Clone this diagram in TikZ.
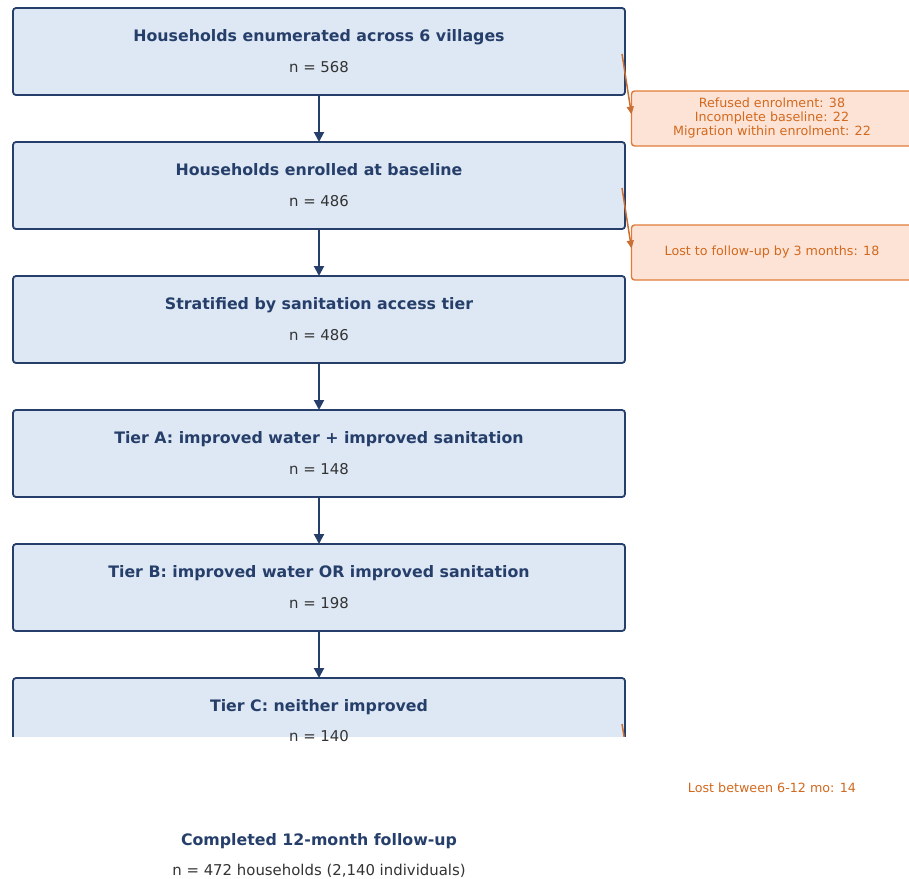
\documentclass[tikz,border=0pt]{standalone}
\usepackage{fontspec}
\setmainfont{DejaVu Sans}
\usetikzlibrary{arrows.meta}
\definecolor{navy}{HTML}{263F6A}
\definecolor{boxfill}{HTML}{DEE8F5}
\definecolor{ntextcol}{HTML}{333333}
\definecolor{orangeline}{HTML}{E07B39}
\definecolor{orangefill}{HTML}{FDE3D6}
\definecolor{orangetext}{HTML}{D2691E}
\begin{document}
\begin{tikzpicture}[x=1pt,y=-1pt,
  mainbox/.style={draw=navy, fill=boxfill, line width=1.8pt, rounded corners=3pt,
    minimum width=612pt, minimum height=87pt, inner sep=0pt, outer sep=0pt},
  sidebox/.style={draw=orangeline, fill=orangefill, line width=1.4pt, rounded corners=3pt,
    minimum width=281pt, minimum height=55pt, inner sep=0pt, outer sep=0pt},
  titletext/.style={font=\fontsize{15.8}{18}\selectfont\bfseries, text=navy, inner sep=0pt, anchor=base},
  ntext/.style={font=\fontsize{14.9}{17}\selectfont, text=ntextcol, inner sep=0pt, anchor=base},
  sidetext/.style={font=\fontsize{12.7}{14}\selectfont, text=orangetext, inner sep=0pt, align=center},
  navyarrow/.style={draw=navy, line width=2pt, -{Triangle[length=10pt,width=10pt]}},
  orangearrow/.style={draw=orangeline!90!black, line width=1.5pt, -{Triangle[length=8pt,width=7pt]}}
]
\useasboundingbox (0,0) rectangle (909,878);
\clip (0,0) rectangle (909,878);

% main boxes
\node[mainbox] (b1) at (319,51.5) {};
\node[mainbox] (b2) at (319,185.5) {};
\node[mainbox] (b3) at (319,319.5) {};
\node[mainbox] (b4) at (319,453.5) {};
\node[mainbox] (b5) at (319,587.5) {};
\begin{scope}
  \clip (0,0) rectangle (909,736);
  \node[mainbox] (b6) at (319,721.5) {};
  \coordinate (c3) at (622,724);
  \coordinate (e3) at (632,784);
  \draw[orangearrow] (c3) -- (e3);
\end{scope}

% texts in main boxes
\node[titletext] (t1) at (319,41) {Households enumerated across 6 villages};
\node[ntext] (n1) at (319,72) {n = 568};
\node[titletext] (t2) at (319,175) {Households enrolled at baseline};
\node[ntext] (n2) at (319,206) {n = 486};
\node[titletext] (t3) at (319,309) {Stratified by sanitation access tier};
\node[ntext] (n3) at (319,340) {n = 486};
\node[titletext] (t4) at (319,443) {Tier A: improved water + improved sanitation};
\node[ntext] (n4) at (319,474) {n = 148};
\node[titletext] (t5) at (319,577) {Tier B: improved water OR improved sanitation};
\node[ntext] (n5) at (319,608) {n = 198};
\node[titletext] (t6) at (319,711) {Tier C: neither improved};
\node[ntext] (n6) at (319,741) {n = 140};

% main arrows
\draw[navyarrow] (b1) -- (b2);
\draw[navyarrow] (b2) -- (b3);
\draw[navyarrow] (b3) -- (b4);
\draw[navyarrow] (b4) -- (b5);
\draw[navyarrow] (b5) -- (b6);

% side boxes
\node[sidebox] (s1) at (772,118.5) {};
\node[sidetext] (st1) at (772,118) {Refused enrolment: 38\\Incomplete baseline: 22\\Migration within enrolment: 22};
\node[sidebox] (s2) at (772,252.5) {};
\node[sidetext] (st2) at (772,252) {Lost to follow-up by 3 months: 18};

\coordinate (c1) at (622,54);
\coordinate (c2) at (622,188);
\draw[orangearrow] (c1) -- ([yshift=4pt]s1.west);
\draw[orangearrow] (c2) -- ([yshift=4pt]s2.west);

% bottom texts
\node[sidetext] (st3) at (772,788) {Lost between 6-12 mo: 14};
\node[titletext] (tf) at (319,845) {Completed 12-month follow-up};
\node[ntext] (nf) at (319,875) {n = 472 households (2,140 individuals)};
\end{tikzpicture}
\end{document}
